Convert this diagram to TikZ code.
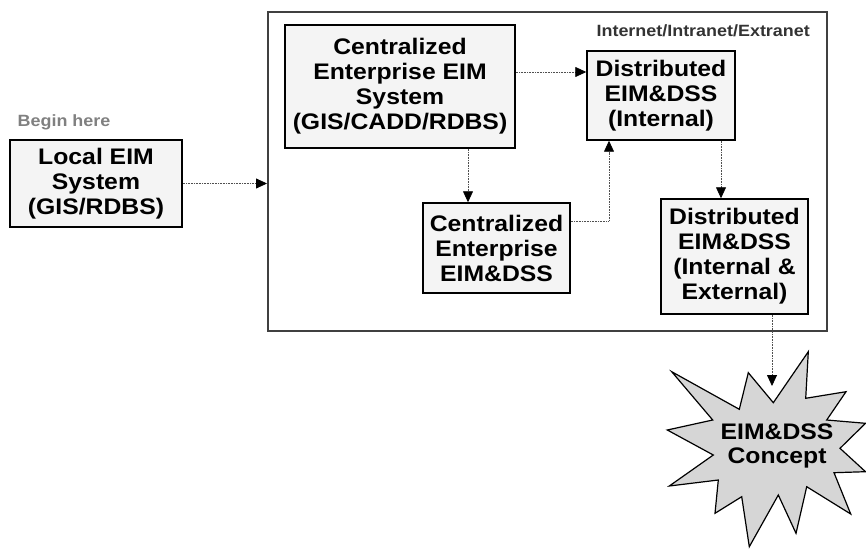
\documentclass[tikz,border=0pt]{standalone}
\usepackage{fontspec}
\setmainfont[FakeStretch=1.1]{Liberation Sans}
\usetikzlibrary{arrows.meta}
\definecolor{boxfill}{RGB}{244,244,244}
\definecolor{burstfill}{RGB}{214,214,214}
\definecolor{framecol}{RGB}{64,64,64}
\definecolor{linkcol}{RGB}{80,80,80}
\definecolor{notecol}{RGB}{128,128,128}
\definecolor{titlecol}{RGB}{51,51,51}
\tikzset{
  stage/.style={draw=black, line width=1.5pt, fill=boxfill, align=center,
    font=\bfseries\fontsize{22.5}{25}\selectfont, inner sep=0pt},
  flow/.style={draw=linkcol, line width=0.8pt, dash pattern=on 0.8pt off 0.8pt,
    -{Triangle[length=11pt,width=10pt,black]}},
  note/.style={font=\bfseries\fontsize{16.3}{18}\selectfont, inner sep=0pt},
}
\begin{document}
\begin{tikzpicture}[x=1pt,y=-1pt]
\useasboundingbox (0,0) rectangle (866,548);

% network frame
\node[draw=framecol, line width=2pt, minimum width=559pt, minimum height=319pt, inner sep=0pt]
  (frame) at (547.5,171.5) {};
\node[note, text=titlecol, anchor=east] (net) at (810,31) {Internet/Intranet/Extranet};

% stages
\node[note, text=notecol] (begin) at (64,122) {Begin here};
\node[stage, minimum width=172pt, minimum height=87pt] (local) at (96,183.5)
  {Local EIM\\System\\(GIS/RDBS)};
\node[stage, minimum width=230pt, minimum height=123pt] (cent) at (400,86.5)
  {Centralized\\Enterprise EIM\\System\\(GIS/CADD/RDBS)};
\node[stage, minimum width=148pt, minimum height=89pt] (dint) at (661,95.5)
  {Distributed\\EIM\&DSS\\(Internal)};
\node[stage, minimum width=147pt, minimum height=90pt] (cdss) at (496.5,248)
  {Centralized\\Enterprise\\EIM\&DSS};
\node[stage, minimum width=147pt, minimum height=115pt] (dext) at (734.5,256.5)
  {Distributed\\EIM\&DSS\\(Internal \&\\External)};

% concept burst
\draw[black, line width=1.2pt, fill=burstfill, line join=miter]
  (671.7,371.7) -- (739.3,409.3) -- (748.3,372.7) -- (773.3,402.7) -- (808.3,351.7)
  -- (805.7,398.3) -- (846,391.7) -- (826.7,420) -- (865.5,423.3) -- (840,448.3)
  -- (865.5,471.7) -- (834,472.7) -- (850.7,514) -- (806.7,486.7) -- (796,533.3)
  -- (778.3,495) -- (749.3,546.7) -- (741.7,496.7) -- (715,513.3) -- (718.3,480)
  -- (669.3,486) -- (713.3,455) -- (667.3,430) -- (712.7,420) -- cycle;
\coordinate (burstTop) at (772,386);
\node[font=\bfseries\fontsize{22.5}{24}\selectfont, align=center, inner sep=0pt]
  (concept) at (777,446) {EIM\&DSS\\Concept};

% connectors
\draw[flow] (local.east) -- (frame.west |- local.east);
\draw[flow] (cent.east |- 0,72) -- (dint.west |- 0,72);
\draw[flow] (cent.south -| 468,0) -- (cdss.north -| 468,0);
\draw[flow] (cdss.east |- 0,221) -| (dint.south -| 609,0);
\draw[flow] (dint.south -| 721,0) -- (dext.north -| 721,0);
\draw[flow] (dext.south -| burstTop) -- (burstTop);
\end{tikzpicture}
\end{document}
